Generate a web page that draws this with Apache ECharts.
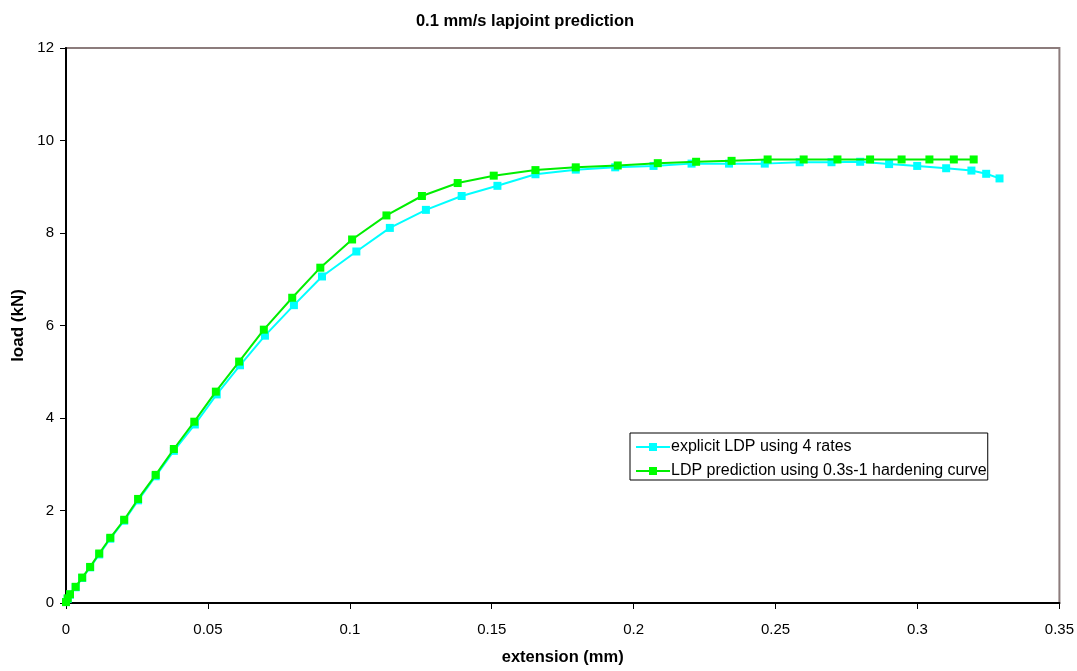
<!DOCTYPE html>
<html>
<head>
<meta charset="utf-8">
<script src="https://cdn.jsdelivr.net/npm/echarts@6/dist/echarts.min.js"></script>
<style>html,body{margin:0;padding:0;background:#fff;}#chart{width:1077px;height:671px;}</style>
</head>
<body>
<div id="chart"></div>
<script>
const titleText = '0.1 mm/s lapjoint prediction';
const xName = 'extension (mm)';
const yName = 'load (kN)';
const seriesNames = ['explicit LDP using 4 rates', 'LDP prediction using 0.3s-1 hardening curve'];

const cyanX = [0, 0.0006, 0.0014, 0.0034, 0.0057, 0.0085, 0.0117, 0.0156, 0.0205, 0.0254, 0.0316, 0.0380,
  0.0454, 0.0531, 0.0613, 0.0701, 0.0803, 0.0902, 0.1023, 0.1141, 0.1268, 0.1394, 0.1520, 0.1654,
  0.1796, 0.1935, 0.2070, 0.2204, 0.2336, 0.2462, 0.2585, 0.2697, 0.2798, 0.2900, 0.2999, 0.3101,
  0.3190, 0.3242, 0.3289];
const cyanY = [0.02, 0.09, 0.18, 0.34, 0.54, 0.77, 1.05, 1.39, 1.78, 2.22, 2.74, 3.29,
  3.86, 4.51, 5.14, 5.78, 6.44, 7.06, 7.60, 8.11, 8.50, 8.80, 9.02, 9.27,
  9.37, 9.42, 9.45, 9.50, 9.50, 9.50, 9.53, 9.53, 9.54, 9.49, 9.45, 9.40,
  9.35, 9.28, 9.18];

const greenX = [0, 0.0006, 0.0014, 0.0034, 0.0057, 0.0085, 0.0117, 0.0156, 0.0205, 0.0254, 0.0316, 0.0380,
  0.0452, 0.0528, 0.0610, 0.0697, 0.0797, 0.0896, 0.1008, 0.1129, 0.1254, 0.1380, 0.1507, 0.1654,
  0.1796, 0.1944, 0.2085, 0.2220, 0.2345, 0.2472, 0.2599, 0.2718, 0.2833, 0.2944, 0.3042, 0.3128,
  0.3198];
const greenY = [0.02, 0.1, 0.19, 0.35, 0.55, 0.78, 1.07, 1.41, 1.80, 2.25, 2.77, 3.33,
  3.92, 4.57, 5.22, 5.91, 6.60, 7.25, 7.86, 8.38, 8.80, 9.08, 9.24, 9.36,
  9.42, 9.46, 9.51, 9.54, 9.56, 9.59, 9.59, 9.59, 9.59, 9.59, 9.59, 9.59,
  9.59];

const xTicks = {min: 0, max: 0.35, interval: 0.05};
const yTicks = {min: 0, max: 12, interval: 2};

const zip = (xs, ys) => xs.map((x, i) => [x, ys[i]]);
const font = 'Liberation Sans, Arial, sans-serif';

const chart = echarts.init(document.getElementById('chart'), null, {renderer: 'canvas'});
chart.setOption({
  animation: false,
  backgroundColor: '#ffffff',
  title: {
    text: titleText, left: 520, top: 8, textAlign: 'center',
    textStyle: {fontFamily: font, fontSize: 16.5, fontWeight: 'bold', color: '#000'}
  },
  grid: {
    left: 66, right: 17, top: 48, bottom: 66,
    show: true, borderColor: '#8c7c7c', borderWidth: 2, backgroundColor: 'transparent'
  },
  legend: {
    left: 630, top: 433, orient: 'vertical',
    backgroundColor: '#fff', borderColor: '#000', borderWidth: 1,
    padding: [6, 1, 1, 5], itemGap: 8, itemWidth: 34, itemHeight: 10,
    textStyle: {fontFamily: font, fontSize: 16, lineHeight: 16, color: '#000', padding: [0, 0, 0, -4]},
    data: seriesNames
  },
  xAxis: {
    type: 'value', min: xTicks.min, max: xTicks.max, interval: xTicks.interval,
    name: xName, nameLocation: 'middle', nameGap: 46,
    nameTextStyle: {fontFamily: font, fontSize: 16.5, fontWeight: 'bold', color: '#000'},
    axisLine: {show: true, onZero: false, lineStyle: {color: '#000', width: 2}},
    axisTick: {show: true, length: 6, lineStyle: {color: '#000', width: 1}},
    axisLabel: {fontFamily: font, fontSize: 15, color: '#000', margin: 19},
    splitLine: {show: false}
  },
  yAxis: {
    type: 'value', min: yTicks.min, max: yTicks.max, interval: yTicks.interval,
    name: yName, nameLocation: 'middle', nameGap: 39,
    nameTextStyle: {fontFamily: font, fontSize: 17, fontWeight: 'bold', color: '#000'},
    axisLine: {show: true, onZero: false, lineStyle: {color: '#000', width: 2}},
    axisTick: {show: true, length: 6, lineStyle: {color: '#000', width: 1}},
    axisLabel: {fontFamily: font, fontSize: 15, color: '#000', margin: 12},
    splitLine: {show: false}
  },
  series: [
    {
      name: seriesNames[0], type: 'line', data: zip(cyanX, cyanY),
      symbol: 'rect', symbolSize: 8, showAllSymbol: true,
      lineStyle: {color: '#00ffff', width: 2}, itemStyle: {color: '#00ffff'}, color: '#00ffff', z: 2
    },
    {
      name: seriesNames[1], type: 'line', data: zip(greenX, greenY),
      symbol: 'rect', symbolSize: 8, showAllSymbol: true,
      lineStyle: {color: '#00ee00', width: 2}, itemStyle: {color: '#00ff00'}, color: '#00ff00', z: 3
    }
  ]
});
</script>
</body>
</html>
